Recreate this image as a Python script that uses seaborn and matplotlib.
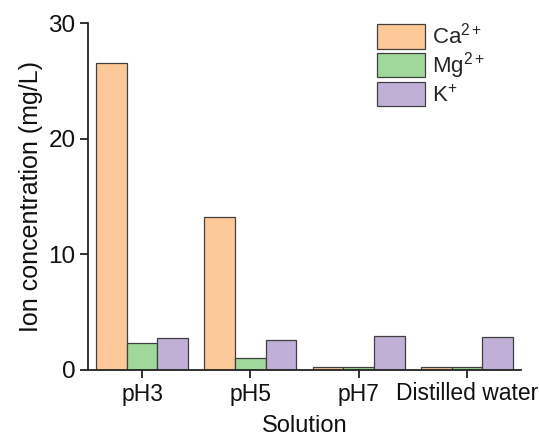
import matplotlib
matplotlib.use("Agg")
import matplotlib.pyplot as plt
import seaborn as sns
import pandas as pd

solutions = ["pH3", "pH5", "pH7", "Distilled water"]
ions = [r"Ca$^{2+}$", r"Mg$^{2+}$", r"K$^{+}$"]
ca = [26.5, 13.2, 0.23, 0.25]
mg = [2.33, 1.04, 0.22, 0.22]
k = [2.77, 2.6, 2.94, 2.83]
colors = ["#FDC897", "#9FD89A", "#C0B0D7"]

rows = []
for ion, vals in zip(ions, [ca, mg, k]):
    for s, v in zip(solutions, vals):
        rows.append({"Solution": s, "Ion": ion, "Value": v})
df = pd.DataFrame(rows)

sns.set_style("ticks")
plt.rcParams["font.family"] = ["Liberation Sans", "DejaVu Sans"]
plt.rcParams["mathtext.fontset"] = "custom"
plt.rcParams["mathtext.rm"] = "Liberation Sans"
plt.rcParams["mathtext.it"] = "Liberation Sans:italic"
plt.rcParams["mathtext.bf"] = "Liberation Sans:bold"

fig = plt.figure(figsize=(5.39, 4.37), dpi=100)
ax = fig.add_axes([88 / 539, 1 - 370 / 437, (521 - 88) / 539, (370 - 23) / 437])

sns.barplot(data=df, x="Solution", y="Value", hue="Ion", order=solutions,
            hue_order=ions, palette=colors, width=0.85, gap=0,
            edgecolor="#404040", linewidth=0.9, saturation=1, ax=ax)

ax.set_xlim(-0.5, 3.5)
ax.set_ylim(0, 30)
ax.set_yticks([0, 10, 20, 30])
sns.despine(ax=ax)
for sp in ["left", "bottom"]:
    ax.spines[sp].set_linewidth(1.3)
    ax.spines[sp].set_color("#222222")
ax.tick_params(axis="both", direction="out", length=6, width=1.3, color="#222222",
               labelsize=17.5, labelcolor="#111111", pad=3)
ax.tick_params(axis="x", labelsize=16.5)
ax.set_xlabel("Solution", fontsize=17, labelpad=7, color="#111111")
ax.set_ylabel("Ion concentration (mg/L)", fontsize=18, labelpad=4, color="#111111")

leg = ax.legend(loc="upper left", bbox_to_anchor=(0.668, 1.0), frameon=False,
                fontsize=16, handlelength=2.16, handleheight=1.3,
                handletextpad=0.3, labelspacing=0.05, borderpad=0, borderaxespad=0)

fig.savefig("out.png", dpi=100)
